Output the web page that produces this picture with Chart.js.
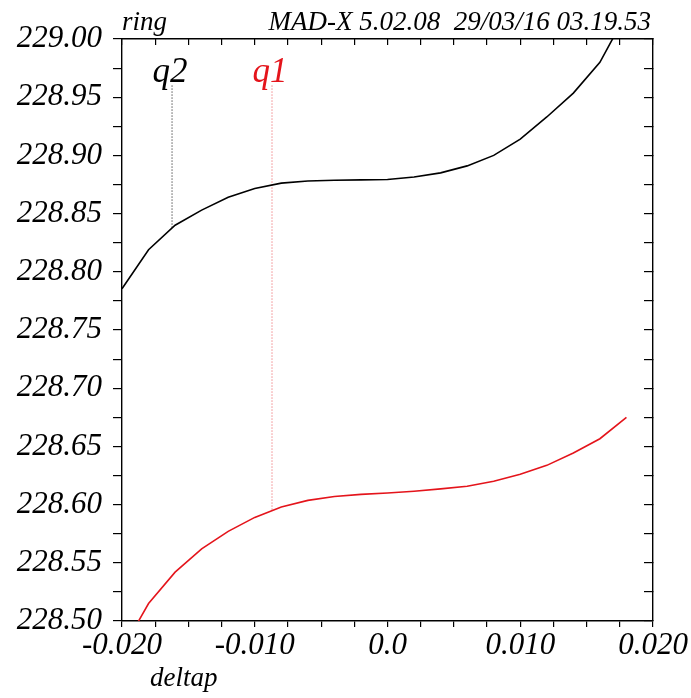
<!DOCTYPE html>
<html><head><meta charset="utf-8">
<script src="https://cdn.jsdelivr.net/npm/chart.js@4"></script>
<style>html,body{margin:0;padding:0;background:#fff;} canvas{display:block;}</style>
</head><body>
<canvas id="c" width="691" height="698"></canvas>
<script>
// ---- data ----
const deltap = [-0.020,-0.018,-0.016,-0.014,-0.012,-0.010,-0.008,-0.006,-0.004,-0.002,
                 0.000, 0.002, 0.004, 0.006, 0.008, 0.010, 0.012, 0.014, 0.016, 0.018];
const q2Values = [228.7855,228.819,228.840,228.853,228.864,228.8715,228.8762,228.878,228.8787,228.879,
                  228.8793,228.8815,228.885,228.891,228.900,228.914,228.933,228.9535,228.980,229.022];
const q1Values = [228.475,228.515,228.542,228.562,228.577,228.589,228.598,228.6036,228.607,228.6088,
                  228.610,228.6115,228.6135,228.6157,228.620,228.626,228.6337,228.6443,228.6566,228.675];
const markerNames = ['q2','q1'];
const markerX = [-0.01623,-0.0087];
const markerTop = [228.96,228.96];
const markerBottom = [228.838,228.595];
const xTickValues = [-0.02,-0.01,0,0.01,0.02];
const xTickLabels = ['-0.020','-0.010','0.0','0.010','0.020'];
const yTickValues = [228.50,228.55,228.60,228.65,228.70,228.75,228.80,228.85,228.90,228.95,229.00];
const yTickLabels = ['228.50','228.55','228.60','228.65','228.70','228.75','228.80','228.85','228.90','228.95','229.00'];
const headerLeft = 'ring';
const headerRight = 'MAD-X 5.02.08  29/03/16 03.19.53';
const xTitle = 'deltap';

// ---- chart ----
const BLACK = '#000000';
const RED = '#e4141b';
const FONT = '"Liberation Serif", "Times New Roman", serif';

function lookup(vals, labels, v) {
  for (let i = 0; i < vals.length; i++) if (Math.abs(vals[i] - v) < 1e-7) return labels[i];
  return '';
}

const curve = (vals) => deltap.map((x, i) => ({x: x, y: vals[i]}));
const marker = (i) => [{x: markerX[i], y: markerTop[i]}, {x: markerX[i], y: markerBottom[i]}];

const textPlugin = {
  id: 'texts',
  afterDraw(chart) {
    const ctx = chart.ctx, a = chart.chartArea;
    const xs = chart.scales.x, ys = chart.scales.y;
    ctx.save();
    ctx.fillStyle = BLACK;
    ctx.textBaseline = 'alphabetic';
    ctx.font = 'italic 27px ' + FONT;
    ctx.textAlign = 'left';
    ctx.fillText(headerLeft, a.left, 30);
    ctx.textAlign = 'right';
    ctx.fillText(headerRight, a.right - 2, 30);
    ctx.textAlign = 'left';
    ctx.fillText(xTitle, a.left + 28, 686);
    ctx.font = 'italic 35px ' + FONT;
    ctx.textAlign = 'center';
    markerNames.forEach((n, i) => {
      ctx.fillStyle = i === 0 ? BLACK : RED;
      ctx.fillText(n, xs.getPixelForValue(markerX[i]) - 2, ys.getPixelForValue(markerTop[i]) - 4);
    });
    ctx.restore();
  }
};

const tickFont = {family: FONT, size: 31, style: 'italic'};
const gridBase = {drawOnChartArea: false, drawTicks: true, color: BLACK, lineWidth: 1.2};
const borderBase = {display: true, color: BLACK, width: 1.4};

new Chart(document.getElementById('c'), {
  type: 'line',
  data: {
    datasets: [
      {data: curve(q2Values), borderColor: BLACK, borderWidth: 1.6, pointRadius: 0, tension: 0},
      {data: curve(q1Values), borderColor: RED, borderWidth: 1.6, pointRadius: 0, tension: 0},
      {data: marker(0), borderColor: BLACK, borderWidth: 1, borderDash: [1, 2], pointRadius: 0},
      {data: marker(1), borderColor: 'rgba(228,20,27,0.75)', borderWidth: 1, borderDash: [1, 2], pointRadius: 0}
    ]
  },
  options: {
    responsive: false,
    animation: false,
    devicePixelRatio: 1,
    layout: {padding: {top: 39, right: 38, left: 0, bottom: 0}},
    plugins: {legend: {display: false}, tooltip: {enabled: false}},
    scales: {
      x: {
        type: 'linear', position: 'bottom', min: -0.02, max: 0.02,
        grid: Object.assign({}, gridBase, {tickLength: 6}),
        border: borderBase,
        ticks: {stepSize: 0.0025, autoSkip: false, maxRotation: 0, minRotation: 0, padding: 0,
                color: BLACK, font: tickFont,
                callback: (v) => lookup(xTickValues, xTickLabels, v)},
        afterFit: (s) => { s.height = 77; }
      },
      x2: {
        type: 'linear', position: 'top', min: -0.02, max: 0.02,
        grid: Object.assign({}, gridBase, {tickLength: -6}),
        border: borderBase,
        ticks: {stepSize: 0.0025, display: false, autoSkip: false},
        afterFit: (s) => { s.height = 0; }
      },
      y: {
        type: 'linear', position: 'left', min: 228.5, max: 229.0,
        grid: Object.assign({}, gridBase, {tickLength: 9}),
        border: borderBase,
        ticks: {stepSize: 0.025, autoSkip: false, padding: 11, color: BLACK, font: tickFont,
                callback: (v) => lookup(yTickValues, yTickLabels, v)},
        afterFit: (s) => { s.width = 122; }
      },
      y2: {
        type: 'linear', position: 'right', min: 228.5, max: 229.0,
        grid: Object.assign({}, gridBase, {tickLength: -9}),
        border: borderBase,
        ticks: {stepSize: 0.025, display: false, autoSkip: false},
        afterFit: (s) => { s.width = 0; }
      }
    }
  },
  plugins: [textPlugin]
});
</script>
</body></html>
